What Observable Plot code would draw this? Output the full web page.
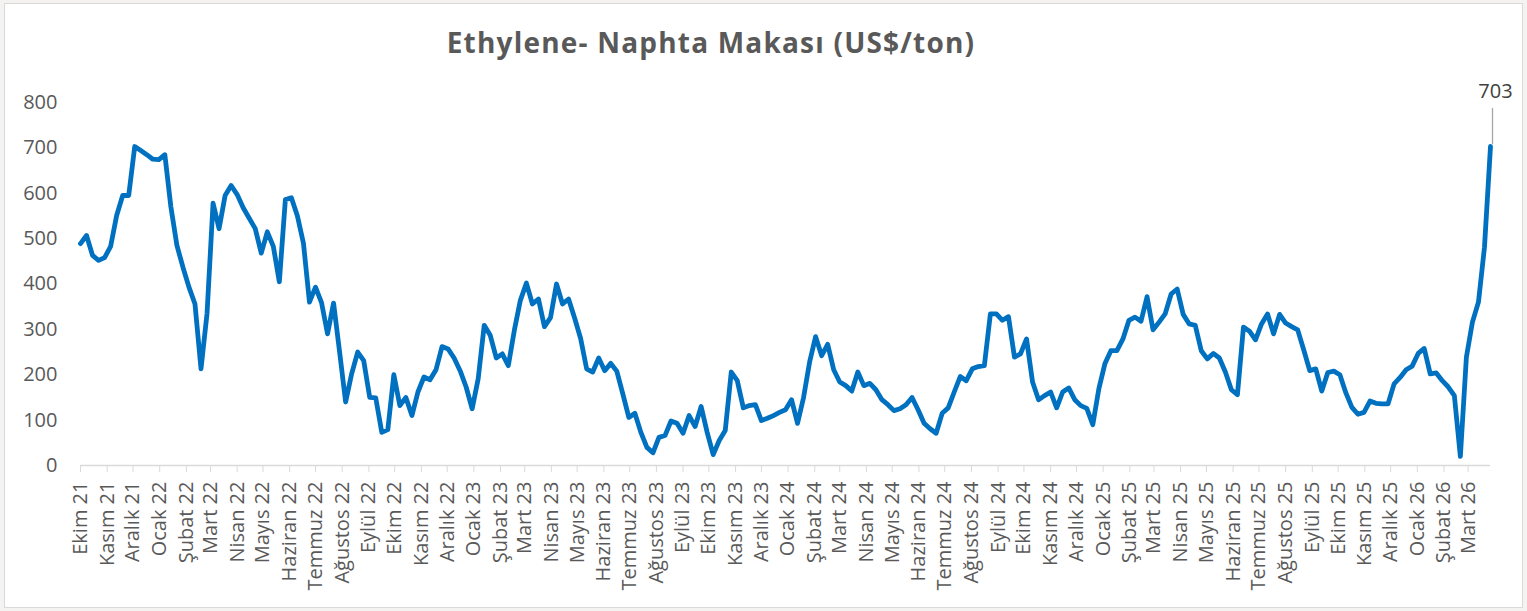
<!DOCTYPE html>
<html>
<head>
<meta charset="utf-8">
<script src="https://cdn.jsdelivr.net/npm/d3@7"></script>
<script src="https://cdn.jsdelivr.net/npm/@observablehq/plot@0.6"></script>
<style>
  html, body { margin: 0; padding: 0; background: #f4f3f1; }
  #wrap { position: relative; width: 1527px; height: 611px; overflow: hidden; }
  #frame { position: absolute; left: 4px; top: 3px; width: 1517px; height: 603px; background: #fff; border: 1px solid #d9d9d9; }
  #title { position: absolute; left: 0; top: 28px; width: 1422px; text-align: center;
           font-family: "Open Sans", sans-serif; font-weight: 700; font-size: 28px; line-height: 28px;
           letter-spacing: 1.2px; color: #595959; }
  #chart { position: absolute; left: 0; top: 0; }
</style>
</head>
<body>
<div id="wrap">
  <div id="frame"></div>
  <div id="chart"></div>
  <div id="title">Ethylene- Naphta Makası (US$/ton)</div>
</div>
<script>
// Turkish month names used for the x tick labels
const monthNames = ["Ocak","Şubat","Mart","Nisan","Mayıs","Haziran","Temmuz","Ağustos","Eylül","Ekim","Kasım","Aralık"];
// first weekly observation
const firstWeek = "2021-10-01";
// weekly Ethylene - Naphtha spread (US$/ton)
const spread = [
  489, 507, 463, 452, 458, 483, 551, 595, 595, 703, 694, 685, 675, 674, 685, 570, 485, 437, 393, 356,
  213, 335, 578, 522, 595, 617, 597, 568, 545, 522, 468, 515, 483, 405, 586, 590, 550, 490, 360, 393,
  359, 290, 358,
  250, 140, 202, 250, 231, 150, 149, 73, 79, 200, 132, 150, 110, 162, 195, 189, 211, 262, 257, 237,
  209, 173, 125, 191, 309, 287, 237, 246, 220, 298, 364, 402, 356, 367, 306, 326, 400, 356, 367, 325,
  280, 213, 206, 237, 209, 225, 208, 158, 106, 115, 73, 40, 28, 62, 66, 98, 93, 71, 110, 86,
  130, 73, 24, 55, 77, 206, 187, 127, 132, 134, 99, 104, 110, 117, 123, 145, 93, 150, 228, 284,
  242, 267, 211,
  184, 176, 164, 206, 176, 181, 167, 145, 134, 121, 125, 134, 150, 123, 93, 81, 71, 115, 127, 162,
  196, 187, 213, 218, 220, 334, 334, 320, 328, 239, 246, 279, 184, 145, 154, 162, 127, 162, 171, 145,
  132, 126,
  90, 169, 224, 253, 253, 279, 320, 327, 318, 372, 299, 316, 334, 378, 389, 333, 312, 309, 253, 235,
  247, 237, 206, 167, 156, 305, 296, 277, 312, 334, 290, 333, 314, 306, 299, 255, 209, 213, 164, 205,
  208, 200, 160, 128, 113, 117, 142, 137, 136, 136, 180, 194, 211, 219, 247, 258, 202, 204, 187, 173,
  154, 20, 239, 316, 360, 481, 703
];
const yTicks = [0, 100, 200, 300, 400, 500, 600, 700, 800];
const lastLabel = "703";

const start = new Date(firstWeek + "T00:00:00Z");
const data = spread.map((v, i) => ({date: d3.utcDay.offset(start, 7 * i), value: v}));
const last = data[data.length - 1];
const monthTicks = d3.utcMonth.range(start, d3.utcDay.offset(last.date, 1));

const chart = Plot.plot({
  width: 1527,
  height: 611,
  marginLeft: 80,
  marginRight: 37,
  marginTop: 102,
  marginBottom: 146,
  style: {fontFamily: "Open Sans, sans-serif", fontSize: "20px", color: "#595959", background: "transparent", overflow: "visible"},
  x: {type: "utc", domain: [start, last.date], label: null},
  y: {domain: [0, 800], label: null},
  marks: [
    Plot.axisY({ticks: yTicks, tickSize: 0, tickPadding: 23, tickFormat: d => String(d), fill: "#595959", fontSize: 20, label: null}),
    Plot.axisX({ticks: monthTicks, tickSize: 7, tickPadding: 9, tickRotate: -90, label: null,
      tickFormat: d => monthNames[d.getUTCMonth()] + " " + String(d.getUTCFullYear()).slice(2),
      stroke: "#d9d9d9", fill: "#595959", fontSize: 20}),
    Plot.ruleY([0], {stroke: "#d9d9d9", strokeWidth: 1.3}),
    Plot.lineY(data, {x: "date", y: "value", stroke: "#0070C0", strokeWidth: 4.8, strokeLinejoin: "round", strokeLinecap: "round"}),
    Plot.ruleX([last], {x: "date", y1: d => d.value + 4, y2: d => d.value + 84, dx: 2, stroke: "#a6a6a6", strokeWidth: 1.3}),
    Plot.text([last], {x: "date", y: "value", text: () => lastLabel, dy: -55, dx: 5, fill: "#404040", fontSize: 20})
  ]
});
document.getElementById("chart").appendChild(chart);
</script>
</body>
</html>
